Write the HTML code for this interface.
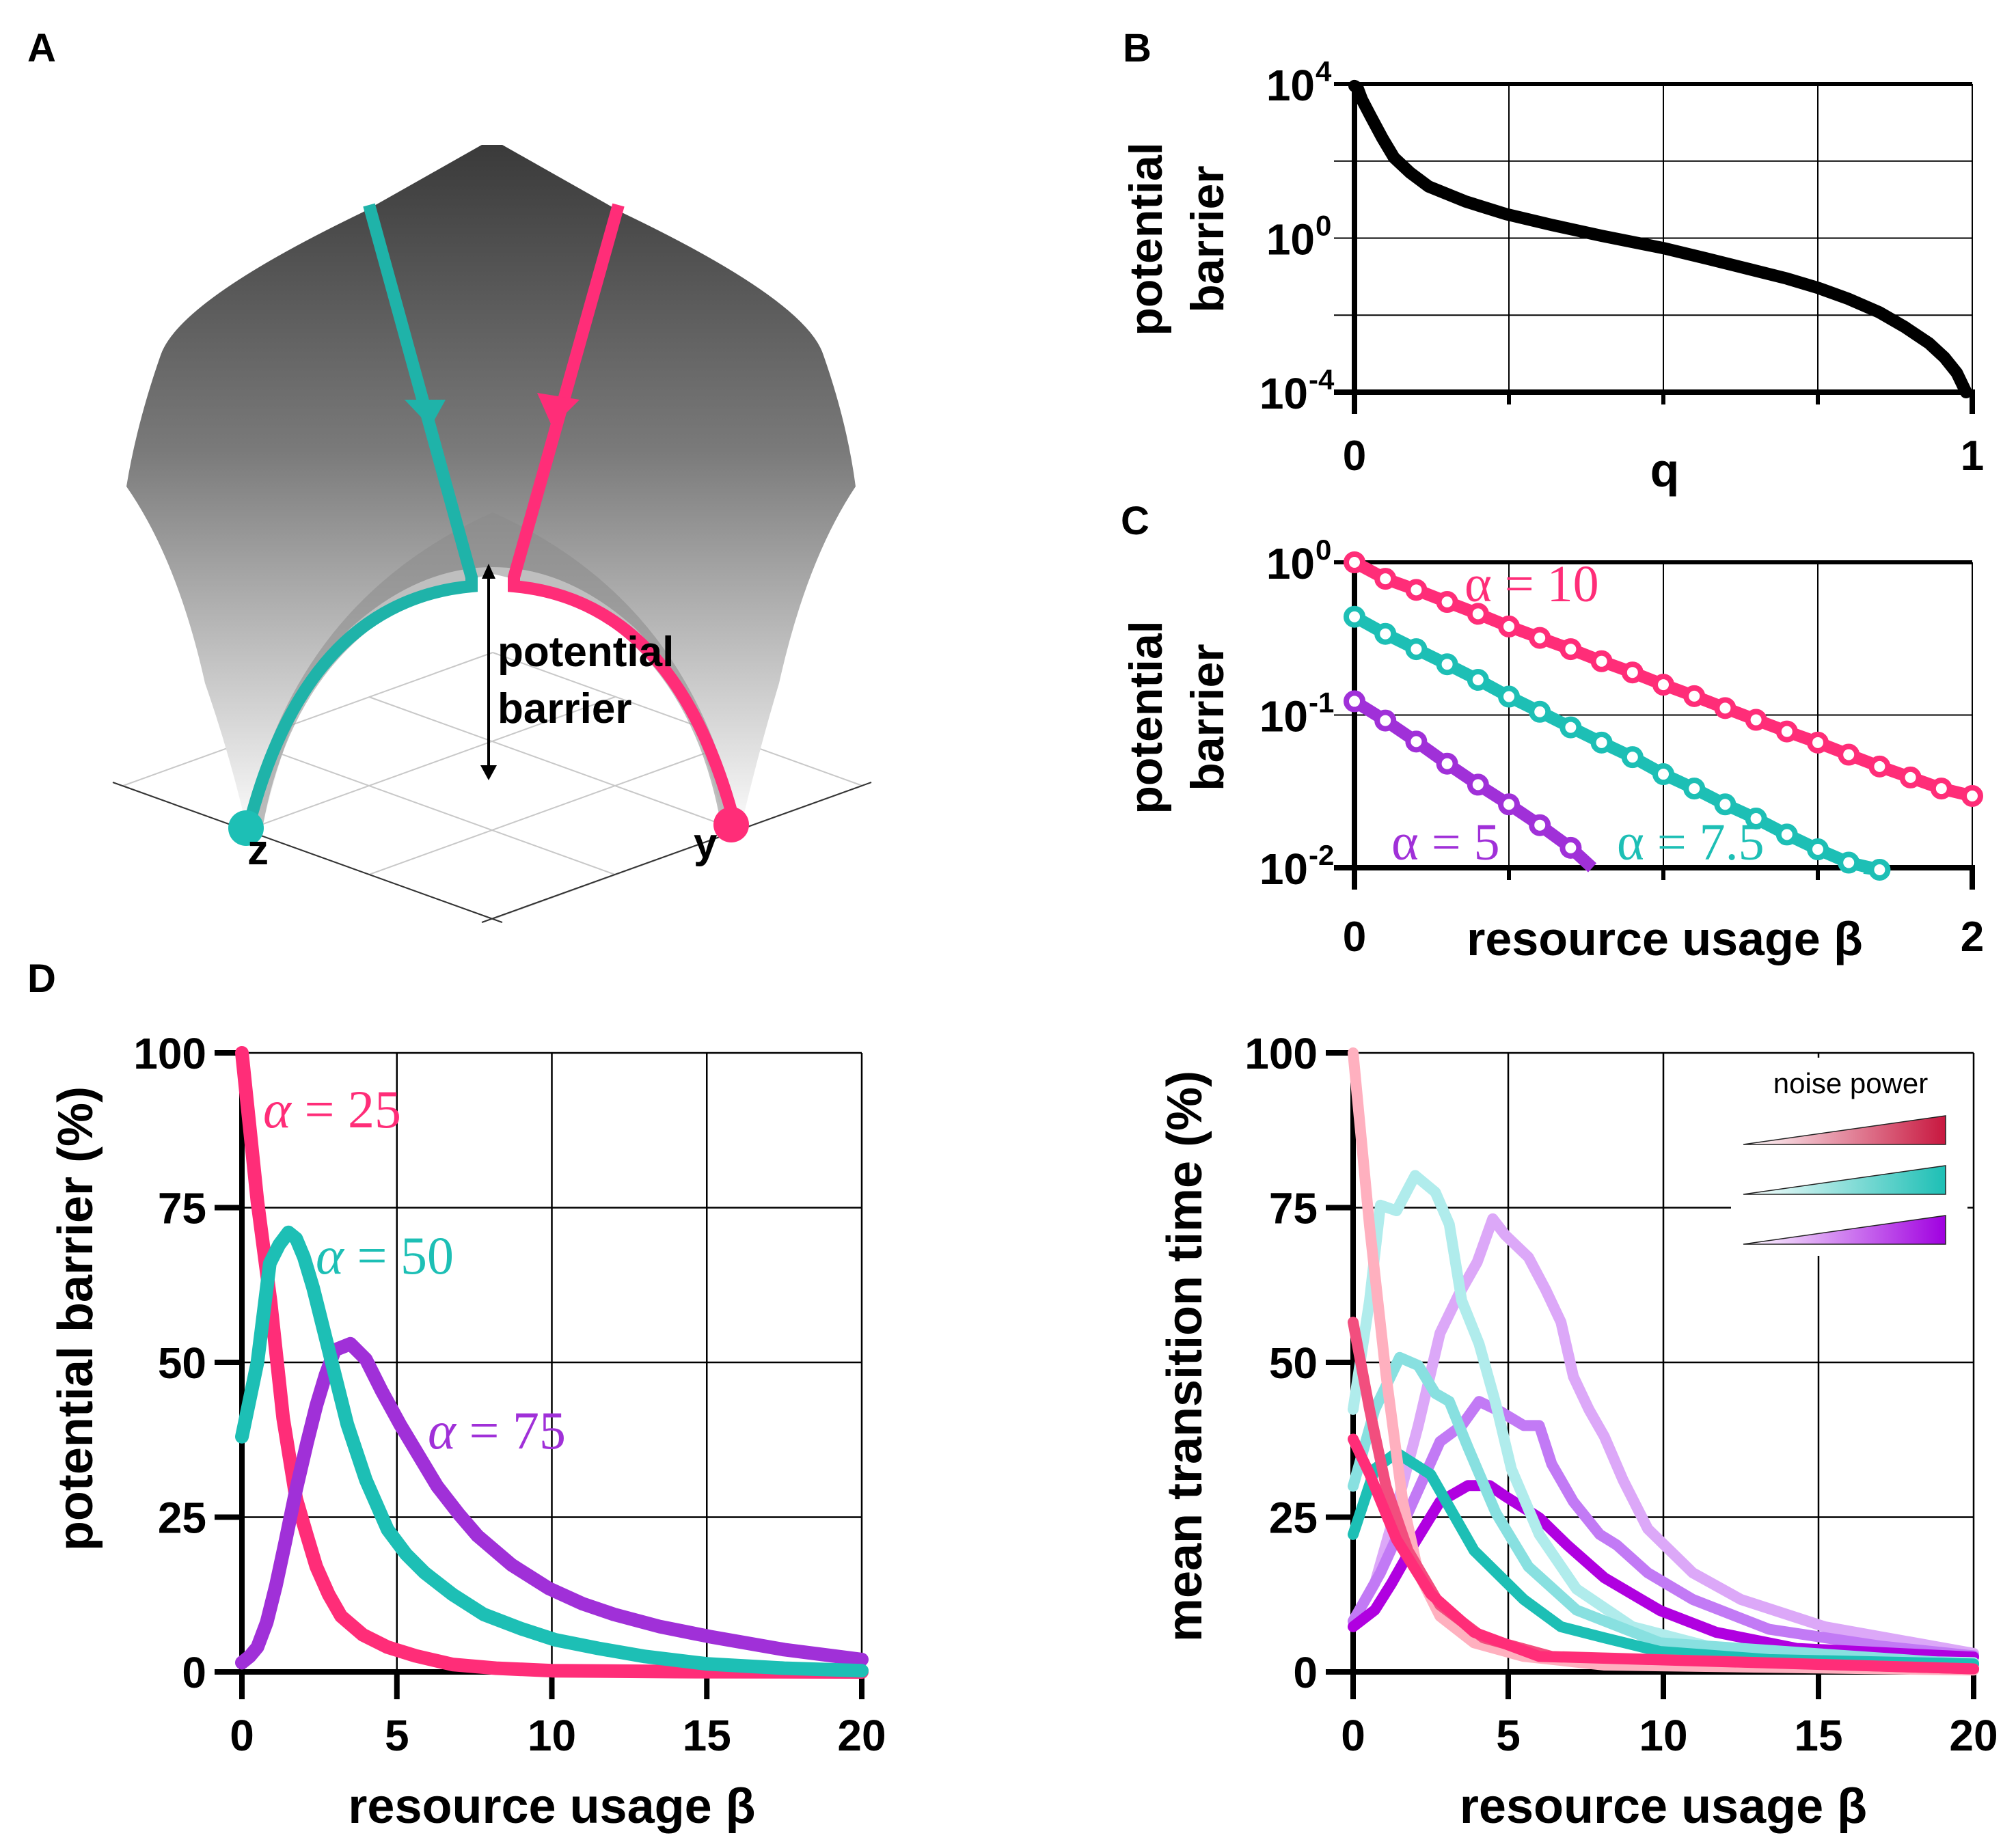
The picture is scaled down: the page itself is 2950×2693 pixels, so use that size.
<!DOCTYPE html>
<html><head><meta charset="utf-8"><style>
html,body{margin:0;padding:0;background:#fff}
svg{display:block}
text{font-family:"Liberation Sans",Arial,sans-serif}
.b{font-weight:bold}
.ser{font-family:"Liberation Serif","DejaVu Serif",serif}
</style></head><body>
<svg id="fig" width="2950" height="2693" viewBox="0 0 2950 2693" xmlns="http://www.w3.org/2000/svg">
<defs>
<linearGradient id="surf" x1="0" y1="0" x2="0" y2="1">
<stop offset="0" stop-color="#3a3a3a"/><stop offset="0.45" stop-color="#7a7a7a"/><stop offset="0.7" stop-color="#b5b5b5"/><stop offset="1" stop-color="#fafafa"/>
</linearGradient>
<linearGradient id="lgP" x1="0" x2="1"><stop offset="0" stop-color="#fff"/><stop offset="1" stop-color="#c8173f"/></linearGradient>
<linearGradient id="lgT" x1="0" x2="1"><stop offset="0" stop-color="#fff"/><stop offset="1" stop-color="#1dbfb5"/></linearGradient>
<linearGradient id="lgV" x1="0" x2="1"><stop offset="0" stop-color="#fff"/><stop offset="1" stop-color="#a000e0"/></linearGradient>
</defs>

<!-- Panel A -->
<g>
<text x="40" y="90" font-size="58" class="b">A</text>
<g stroke="#c8c8c8" stroke-width="2">
<line x1="180" y1="1150" x2="721" y2="1345"/><line x1="721" y1="1345" x2="1262" y2="1150"/>
<line x1="180" y1="1150" x2="721" y2="955"/><line x1="721" y1="955" x2="1262" y2="1150"/>
<line x1="360" y1="1215" x2="900" y2="1020"/><line x1="540" y1="1280" x2="1080" y2="1085"/>
<line x1="540" y1="1020" x2="1080" y2="1215"/><line x1="360" y1="1085" x2="900" y2="1280"/>
</g>
<g stroke="#333" stroke-width="2"><line x1="165" y1="1145" x2="735" y2="1350"/><line x1="705" y1="1350" x2="1275" y2="1145"/></g>
<path fill="url(#surf)" d="M705,212 L735,212 L910,311 Q1180,440 1205,520 Q1240,620 1252,712 Q1180,820 1140,1000 Q1110,1100 1085,1207 L1060,1207 Q1010,1000 930,920 Q830,830 721,830 Q612,830 512,920 Q432,1000 385,1207 L360,1207 Q335,1100 300,1000 Q260,820 185,712 Q200,620 235,520 Q262,440 530,311 Z"/>
<path fill="#8a8a8a" opacity="0.55" d="M360,1207 Q430,880 721,750 Q1012,880 1080,1207 L1055,1207 Q1000,900 721,840 Q442,900 385,1207 Z"/>
<path fill="none" stroke="#1fb3a9" stroke-width="18" d="M540,300 L690,845 L690,858 Q450,880 365,1205"/>
<path fill="none" stroke="#ff2d78" stroke-width="18" d="M905,300 L752,845 L752,858 Q990,880 1075,1205"/>
<polygon points="592,585 652,585 630,625" fill="#1fb3a9"/>
<polygon points="786,575 848,585 808,625" fill="#ff2d78"/>
<circle cx="360" cy="1212" r="26" fill="#1dbfb5"/>
<circle cx="1070" cy="1207" r="26" fill="#ff2d78"/>
<line x1="715" y1="845" x2="715" y2="1125" stroke="#000" stroke-width="4"/>
<polygon points="705,847 725,847 715,825" fill="#000"/><polygon points="703,1120 727,1120 715,1142" fill="#000"/>
<text x="728" y="975" font-size="62" class="b">potential</text>
<text x="728" y="1058" font-size="62" class="b">barrier</text>
<text x="362" y="1265" font-size="62" class="b">z</text>
<text x="1015" y="1255" font-size="62" class="b">y</text>
</g>

<g id="pB"><text x="1643" y="90" font-size="58" class="b">B</text></g>
<g id="pC"><text x="1640" y="782" font-size="58" class="b">C</text></g>
<g id="pD"><text x="40" y="1452" font-size="58" class="b">D</text></g>
<g id="pE"></g>
</svg>
<script>
// ---- data ----
const bQ = [0,0.005,0.012,0.026,0.045,0.064,0.09,0.12,0.18,0.246,0.32,0.4,0.5,0.57,0.64,0.7,0.75,0.8,0.85,0.89,0.93,0.955,0.975,0.99];
const bLog = [3.95,3.9,3.6,3.17,2.6,2.09,1.7,1.34,0.95,0.62,0.34,0.06,-0.26,-0.53,-0.81,-1.05,-1.29,-1.58,-1.93,-2.3,-2.73,-3.1,-3.5,-4.0];
const cBeta = [0,0.1,0.2,0.3,0.4,0.5,0.6,0.7,0.8,0.9,1.0,1.1,1.2,1.3,1.4,1.5,1.6,1.7,1.8,1.9,2.0];
const cPink = [1.0,0.78,0.66,0.55,0.46,0.38,0.32,0.27,0.225,0.19,0.158,0.133,0.111,0.093,0.078,0.066,0.055,0.046,0.039,0.033,0.0295];
const cTeal = [0.44,0.34,0.27,0.215,0.17,0.132,0.105,0.083,0.066,0.053,0.041,0.033,0.026,0.021,0.0165,0.0132,0.0108,0.0097];
const cPurp = [0.123,0.092,0.067,0.048,0.035,0.026,0.019,0.0135];
const dX = {
 a25:[0,0.25,0.5,0.92,1.33,1.75,2.1,2.4,2.8,3.2,3.9,4.7,5.6,6.8,8.2,10,14,20],
 a50:[0,0.25,0.5,0.9,1.2,1.5,1.75,2,2.3,2.6,3,3.4,4,4.7,5.3,5.9,6.8,7.8,9,10.1,11.5,13,15,17.5,20],
 a75:[0,0.25,0.5,0.8,1.1,1.4,1.75,2.1,2.4,2.7,3,3.5,4,4.5,5.1,5.7,6.3,7,7.6,8.7,9.9,11,12,13.5,15.1,17.5,20]};
const dY = {
 a25:[100,88,76,60,41,28,22,17,12.5,9,6,4,2.6,1.2,0.6,0.2,0.05,0],
 a50:[38,44,50,66,69,71,70,67,62,56,48,40,31,23,19,16,12.5,9.3,7,5.2,3.8,2.5,1.3,0.6,0.2],
 a75:[1.5,2.5,4,8,14,21,29.5,37,43,48,52,53,50.5,45.5,40,35,30,25.5,22,17.3,13.5,11,9.3,7.3,5.7,3.6,2]};
const ePinkLX=[0,0.53,1.06,1.6,2.1,2.8,3.9,5.5,8.1,20], ePinkLY=[100,72,48,27.5,16,9,4.7,2.5,1.1,0.3];
const ePinkMX=[0,0.53,1.06,1.77,2.8,4.2,6.4,20], ePinkMY=[56.5,42.4,30,19.6,10.8,5.5,2.5,0.5];
const ePinkDX=[0,0.53,1.4,2.5,3.9,6,20], ePinkDY=[37.6,32,21.4,12.6,6.4,2.5,0.5];
const eTealLX=[0,0.53,0.88,1.4,2,2.65,3.1,3.5,4.06,4.6,5.1,6,7.2,9,11.7,15.2,20], eTealLY=[42.4,60,75.4,74.5,80.2,77.5,72.3,60,53,43.3,32.8,22.2,13.4,7.3,3.8,2,1.5];
const eTealMX=[0,0.7,1.5,2.1,2.65,3.1,3.7,4.6,5.65,7.2,9.9,20], eTealMY=[30,42.4,50.8,49.5,45,43.7,36.3,25.7,17,10,4.7,1.2];
const eTealDX=[0,0.7,1.4,2.5,3.9,5.5,6.7,8.1,9.9,13.4,20], eTealDY=[22.2,32.8,35.4,31.9,19.6,11.7,7.3,5.5,3.3,2,1.3];
const ePurLX=[0,0.7,1.4,2.1,2.8,3.4,4,4.5,4.9,5.65,6.2,6.7,7.1,7.6,8.1,8.7,9.5,10.95,12.5,15.2,20], ePurLY=[8.2,14.3,26.6,39.8,54.7,60.9,66.2,73.2,70.6,67,61.8,56.5,47.7,42.4,38,31,23.1,16,11.7,7.3,3];
const ePurMX=[0,0.88,1.77,2.8,3.5,4.06,4.77,5.5,6,6.4,7.1,7.95,8.5,9.5,10.95,13.4,16.96,20], ePurMY=[8.2,16,25.7,37.2,39.8,43.7,42,39.8,39.8,33.6,27.5,22.2,20.5,16,11.7,6.9,4.2,2.6];
const ePurDX=[0,0.7,1.24,1.94,2.8,3.7,4.4,4.9,6,6.9,8.1,9.9,11.7,14.3,20], ePurDY=[7.3,10,14.3,20.5,27.5,30.1,30.1,28.4,24.9,20.5,15.2,9.9,6.4,3.8,2.4];
const dTicks=["0","5","10","15","20"], yTicks=["0","25","50","75","100"];

const NS="http://www.w3.org/2000/svg";
function mk(parent,tag,attrs){const e=document.createElementNS(NS,tag);for(const k in attrs)e.setAttribute(k,attrs[k]);parent.appendChild(e);return e;}
function txt(parent,x,y,s,size,anchor,extra){const t=mk(parent,'text',Object.assign({x:x,y:y,'font-size':size,'text-anchor':anchor||'start'},extra||{}));t.textContent=s;return t;}
function alphaLabel(parent,x,y,rest,size,col,nm){
 const t=mk(parent,'text',{x:x,y:y,'font-size':size,class:'ser',fill:col});
 
 
 const a=mk(t,'tspan',{'font-style':'italic'});a.textContent='α';
 const r=mk(t,'tspan',{});r.textContent=rest;return t;
}

// ---- Panel B ----
(function(){
 const g=document.getElementById('pB');
 const L=1982,R=2886,T=123,B=574;
 const sx=q=>L+q*(R-L), sy=v=>T+(4-v)/8*(B-T);
 for(let i=1;i<=4;i++){const l=mk(g,'line',{x1:sx(i/4),x2:sx(i/4),y1:T,y2:B,stroke:'#000','stroke-width':2});
 
 }
 for(let i=0;i<4;i++){const v=4-2*i;const l=mk(g,'line',{x1:L-30,x2:R,y1:sy(v),y2:sy(v),stroke:'#000','stroke-width':i==0?6:2});
 
 }
 mk(g,'line',{x1:L,x2:L,y1:T,y2:B+32,stroke:'#000','stroke-width':8});
 mk(g,'line',{x1:L-30,x2:R+4,y1:B,y2:B,stroke:'#000','stroke-width':8});
 for(let i=1;i<=4;i++)mk(g,'line',{x1:sx(i/4),x2:sx(i/4),y1:B,y2:B+(i==4?32:18),stroke:'#000','stroke-width':i==4?8:6});
 [[4,"4"],[0,"0"],[-4,"-4"]].forEach(([v,e])=>{const ex=(e.length>1)?L-68:L-58;const t=txt(g,ex,sy(v)+24,"10",64,'end',{class:'b'});
 
 
 txt(g,ex+1,sy(v)-4,e,42,'start',{class:'b'});});
 txt(g,L,688,"0",62,'middle',{class:'b'});txt(g,R,688,"1",62,'middle',{class:'b'});
 const q=txt(g,2436,712,"q",70,'middle',{class:'b'});
 
 
 const yt=mk(g,'g',{transform:'translate(1700,350) rotate(-90)'});
 
 
 txt(yt,0,0,"potential",68,'middle',{class:'b'});txt(yt,0,90,"barrier",68,'middle',{class:'b'});
 const p=mk(g,'polyline',{points:bQ.map((q,i)=>sx(q)+','+sy(bLog[i])).join(' '),fill:'none',stroke:'#000','stroke-width':18,'stroke-linejoin':'round','stroke-linecap':'round'});
 
 
})();

// ---- Panel C ----
(function(){
 const g=document.getElementById('pC');
 const L=1982,R=2886,T=823,B=1270;
 const sx=b=>L+b/2*(R-L), sy=v=>T+(-Math.log10(v))/2*(B-T);
 for(let i=1;i<=4;i++){const l=mk(g,'line',{x1:sx(i/2),x2:sx(i/2),y1:T,y2:B,stroke:'#000','stroke-width':2});
 
 }
 [1,0.1].forEach(v=>{const l=mk(g,'line',{x1:L-30,x2:R,y1:sy(v),y2:sy(v),stroke:'#000','stroke-width':v==1?6:2});
 
 });
 mk(g,'line',{x1:L,x2:L,y1:T,y2:B+32,stroke:'#000','stroke-width':8});
 mk(g,'line',{x1:L-30,x2:R+4,y1:B,y2:B,stroke:'#000','stroke-width':8});
 for(let i=1;i<=4;i++)mk(g,'line',{x1:sx(i/2),x2:sx(i/2),y1:B,y2:B+(i==4?32:18),stroke:'#000','stroke-width':i==4?8:6});
 [[1,"0"],[0.1,"-1"],[0.01,"-2"]].forEach(([v,e])=>{const ex=(e.length>1)?L-68:L-58;const t=txt(g,ex,sy(v)+24,"10",64,'end',{class:'b'});
 
 
 txt(g,ex+1,sy(v)-4,e,42,'start',{class:'b'});});
 txt(g,L,1392,"0",62,'middle',{class:'b'});txt(g,R,1392,"2",62,'middle',{class:'b'});
 const xt=txt(g,2436,1398,"resource usage β",70,'middle',{class:'b'});
 
 
 const yt=mk(g,'g',{transform:'translate(1700,1050) rotate(-90)'});
 
 
 txt(yt,0,0,"potential",68,'middle',{class:'b'});txt(yt,0,90,"barrier",68,'middle',{class:'b'});
 const series=[[cPink,'#ff2d78','pink',2.0,0.026],[cTeal,'#1dbfb5','teal',1.65,0.01],[cPurp,'#a030d8','purple',0.77,0.01]];
 series.forEach(([vals,col,nm,endB,endV])=>{
  const pts=vals.map((v,i)=>sx(cBeta[i])+','+sy(v));pts.push(sx(endB)+','+sy(endV));
  const l=mk(g,'polyline',{points:pts.join(' '),fill:'none',stroke:col,'stroke-width':18});
  
  
  vals.forEach((v,i)=>{const c=mk(g,'circle',{cx:sx(cBeta[i]),cy:sy(v),r:12,fill:'#fff',stroke:col,'stroke-width':8});
  
  });
 });
 const a1=txt(g,2143,880,"α = 10",76,'start',{class:'ser',fill:'#ff2d78'});
 
 
 const a2=txt(g,2036,1258,"α = 5",76,'start',{class:'ser',fill:'#a030d8'});
 
 
 const a3=txt(g,2366,1258,"α = 7.5",76,'start',{class:'ser',fill:'#1dbfb5'});
 
 
})();

// ---- shared axes for D & E ----
function axes(g,L,R,T,B,pre){
 const sx=x=>L+x/20*(R-L), sy=y=>B-y/100*(B-T);
 for(let i=1;i<=4;i++){const l=mk(g,'line',{x1:sx(i*5),x2:sx(i*5),y1:T,y2:B,stroke:'#000','stroke-width':2.5});
 
 }
 for(let i=1;i<=4;i++){const l=mk(g,'line',{x1:L-40,x2:R,y1:sy(i*25),y2:sy(i*25),stroke:'#000','stroke-width':2.5});
 
 
 mk(g,'line',{x1:L-40,x2:L,y1:sy(i*25),y2:sy(i*25),stroke:'#000','stroke-width':8});}
 mk(g,'line',{x1:L,x2:L,y1:T,y2:B+40,stroke:'#000','stroke-width':8});
 mk(g,'line',{x1:L-40,x2:R+4,y1:B,y2:B,stroke:'#000','stroke-width':8});
 for(let i=1;i<=4;i++)mk(g,'line',{x1:sx(i*5),x2:sx(i*5),y1:B,y2:B+40,stroke:'#000','stroke-width':8});
 dTicks.forEach((s,i)=>{const t=txt(g,sx(i*5),B+115,s,64,'middle',{class:'b'});
 
 });
 yTicks.forEach((s,i)=>{const t=txt(g,L-52,sy(i*25)+23,s,64,'end',{class:'b'});
 
 });
 const xt=txt(g,(L+R)/2,2668,"resource usage β",72,'middle',{class:'b'});
 
 
 return [sx,sy];
}
function curve(g,sx,sy,xs,ys,col,w,nm){
 const l=mk(g,'polyline',{points:xs.map((x,i)=>sx(x)+','+sy(ys[i])).join(' '),fill:'none',stroke:col,'stroke-width':w,'stroke-linejoin':'round','stroke-linecap':'round'});
 
 
}

// ---- Panel D ----
(function(){
 const g=document.getElementById('pD');
 const [sx,sy]=axes(g,354,1261,1541,2447,'d');
 const yt=txt(g,0,0,"potential barrier (%)",72,'middle',{class:'b',transform:'translate(135,1930) rotate(-90)'});
 
 
 curve(g,sx,sy,dX.a25,dY.a25,'#ff2d78',20,'d-curve-alpha-25');
 curve(g,sx,sy,dX.a75,dY.a75,'#a030d8',20,'d-curve-alpha-75');
 curve(g,sx,sy,dX.a50,dY.a50,'#1dbfb5',20,'d-curve-alpha-50');
 alphaLabel(g,385,1650," = 25",78,'#ff2d78','d-label-alpha-25');
 alphaLabel(g,462,1864," = 50",78,'#1dbfb5','d-label-alpha-50');
 alphaLabel(g,626,2120," = 75",78,'#a030d8','d-label-alpha-75');
})();

// ---- Panel E ----
(function(){
 const g=document.getElementById('pE');
 const [sx,sy]=axes(g,1980,2888,1541,2447,'e');
 const yt=txt(g,0,0,"mean transition time (%)",72,'middle',{class:'b',transform:'translate(1758,1985) rotate(-90)'});
 
 
 const bg=mk(g,'rect',{x:2533,y:1548,width:346,height:290,fill:'#fff'});
 
 
 curve(g,sx,sy,ePurLX,ePurLY,'#dca8f8',16,'e-purple-low-noise');
 curve(g,sx,sy,ePurMX,ePurMY,'#c27af5',16,'e-purple-mid-noise');
 curve(g,sx,sy,ePurDX,ePurDY,'#b000e0',16,'e-purple-high-noise');
 curve(g,sx,sy,eTealLX,eTealLY,'#b0ecec',16,'e-teal-low-noise');
 curve(g,sx,sy,eTealMX,eTealMY,'#88e0e0',16,'e-teal-mid-noise');
 curve(g,sx,sy,eTealDX,eTealDY,'#1dbfb5',16,'e-teal-high-noise');
 curve(g,sx,sy,ePinkLX,ePinkLY,'#ffb0bf',16,'e-pink-low-noise');
 curve(g,sx,sy,ePinkMX,ePinkMY,'#f24e7e',16,'e-pink-mid-noise');
 curve(g,sx,sy,ePinkDX,ePinkDY,'#ff2d78',16,'e-pink-high-noise');
 const lt=txt(g,2708,1600,"noise power",42,'middle');
 
 
 [['url(#lgP)',1633,'legend-pink-wedge'],['url(#lgT)',1706,'legend-teal-wedge'],['url(#lgV)',1779,'legend-purple-wedge']].forEach(([f,y,n])=>{
  const p=mk(g,'polygon',{points:`2551,${y+42} 2847,${y} 2847,${y+42}`,fill:f,stroke:'#222','stroke-width':1.5});
  
  
 });
})();
</script>
</body></html>
